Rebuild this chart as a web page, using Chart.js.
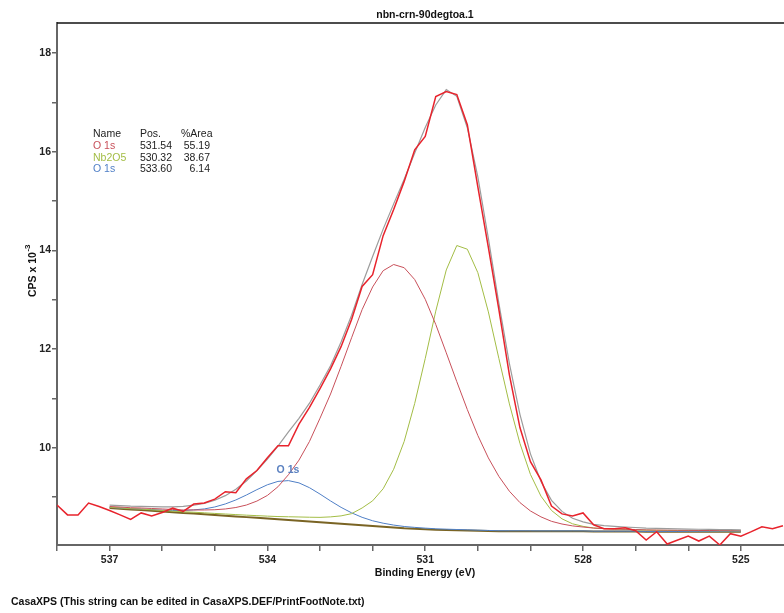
<!DOCTYPE html>
<html>
<head>
<meta charset="utf-8">
<script src="https://cdn.jsdelivr.net/npm/chart.js@4.4.0/dist/chart.umd.min.js"></script>
<style>
  html, body { margin: 0; padding: 0; background: #fff; }
  #cadre { width: 784px; height: 613px; position: relative; }
</style>
</head>
<body>
<div id="cadre"><canvas id="spectre"></canvas></div>
<script>
// spectre brut (eV, CPS x 10^-3)
const energieBrute = [538.0, 537.8, 537.6, 537.4, 537.2, 537.0, 536.8, 536.6, 536.4, 536.2,
  536.0, 535.8, 535.6, 535.4, 535.2, 535.0, 534.8, 534.6, 534.4, 534.2,
  534.0, 533.8, 533.6, 533.4, 533.2, 533.0, 532.8, 532.6, 532.4, 532.2,
  532.0, 531.8, 531.6, 531.4, 531.2, 531.0, 530.8, 530.6, 530.4, 530.2,
  530.0, 529.8, 529.6, 529.4, 529.2, 529.0, 528.8, 528.6, 528.4, 528.2,
  528.0, 527.8, 527.6, 527.4, 527.2, 527.0, 526.8, 526.6, 526.4, 526.2,
  526.0, 525.8, 525.6, 525.4, 525.2, 525.0, 524.8, 524.6, 524.4, 524.2];
const cpsBrute = [8.84, 8.64, 8.64, 8.88, 8.81, 8.73, 8.64, 8.55, 8.68, 8.62,
  8.69, 8.78, 8.71, 8.86, 8.88, 8.96, 9.11, 9.09, 9.37, 9.54,
  9.80, 10.04, 10.04, 10.48, 10.82, 11.20, 11.60, 12.05, 12.60, 13.27,
  13.51, 14.30, 14.83, 15.40, 16.04, 16.31, 17.12, 17.22, 17.16, 16.55,
  15.29, 14.06, 12.80, 11.48, 10.41, 9.72, 9.35, 8.82, 8.66, 8.62,
  8.68, 8.44, 8.36, 8.36, 8.38, 8.32, 8.13, 8.30, 8.05, 8.13,
  8.21, 8.11, 8.21, 8.03, 8.26, 8.21, 8.30, 8.40, 8.36, 8.42];

// région de fit 537 -> 525 eV
const energieFit = [537.0, 536.8, 536.6, 536.4, 536.2, 536.0, 535.8, 535.6, 535.4, 535.2,
  535.0, 534.8, 534.6, 534.4, 534.2, 534.0, 533.8, 533.6, 533.4, 533.2,
  533.0, 532.8, 532.6, 532.4, 532.2, 532.0, 531.8, 531.6, 531.4, 531.2,
  531.0, 530.8, 530.6, 530.4, 530.2, 530.0, 529.8, 529.6, 529.4, 529.2,
  529.0, 528.8, 528.6, 528.4, 528.2, 528.0, 527.8, 527.6, 527.4, 527.2,
  527.0, 526.8, 526.6, 526.4, 526.2, 526.0, 525.8, 525.6, 525.4, 525.2,
  525.0];
const fond = [8.78, 8.765, 8.75, 8.74, 8.725, 8.71, 8.695, 8.68, 8.67, 8.655,
  8.64, 8.625, 8.61, 8.595, 8.58, 8.565, 8.55, 8.535, 8.52, 8.505,
  8.49, 8.475, 8.46, 8.445, 8.43, 8.415, 8.40, 8.385, 8.37, 8.36,
  8.35, 8.34, 8.335, 8.33, 8.325, 8.32, 8.315, 8.31, 8.31, 8.31,
  8.31, 8.31, 8.31, 8.31, 8.31, 8.31, 8.305, 8.305, 8.305, 8.305,
  8.305, 8.30, 8.30, 8.30, 8.30, 8.30, 8.30, 8.30, 8.30, 8.30,
  8.30];
const o1sPrincipal = [8.81, 8.80, 8.785, 8.78, 8.77, 8.76, 8.75, 8.74, 8.74, 8.74,
  8.745, 8.76, 8.79, 8.84, 8.92, 9.035, 9.21, 9.455, 9.75, 10.13,
  10.60, 11.09, 11.65, 12.23, 12.80, 13.26, 13.59, 13.715, 13.65, 13.41,
  13.01, 12.50, 11.925, 11.34, 10.775, 10.25, 9.795, 9.42, 9.12, 8.89,
  8.72, 8.60, 8.51, 8.455, 8.417, 8.394, 8.373, 8.361, 8.355, 8.349,
  8.344, 8.336, 8.333, 8.331, 8.329, 8.327, 8.325, 8.324, 8.322, 8.321,
  8.32];
const nb2o5 = [8.795, 8.781, 8.766, 8.757, 8.743, 8.73, 8.716, 8.703, 8.695, 8.682,
  8.67, 8.658, 8.646, 8.635, 8.625, 8.615, 8.607, 8.602, 8.598, 8.593,
  8.59, 8.60, 8.62, 8.665, 8.78, 8.925, 9.17, 9.565, 10.13, 10.90,
  11.81, 12.77, 13.605, 14.10, 14.025, 13.55, 12.755, 11.81, 10.89, 10.09,
  9.46, 9.02, 8.73, 8.56, 8.46, 8.408, 8.375, 8.361, 8.351, 8.345,
  8.341, 8.332, 8.329, 8.326, 8.324, 8.321, 8.32, 8.318, 8.317, 8.316,
  8.315];
const o1sHaut = [8.793, 8.779, 8.766, 8.759, 8.747, 8.737, 8.73, 8.729, 8.742, 8.761,
  8.801, 8.862, 8.943, 9.043, 9.152, 9.251, 9.319, 9.335, 9.289, 9.191,
  9.062, 8.923, 8.793, 8.682, 8.591, 8.521, 8.472, 8.434, 8.405, 8.387,
  8.372, 8.359, 8.351, 8.344, 8.338, 8.331, 8.325, 8.319, 8.318, 8.318,
  8.317, 8.316, 8.316, 8.316, 8.316, 8.316, 8.31, 8.31, 8.31, 8.31,
  8.31, 8.304, 8.304, 8.304, 8.304, 8.304, 8.303, 8.303, 8.303, 8.303,
  8.303];
const enveloppe = [8.838, 8.827, 8.817, 8.814, 8.807, 8.804, 8.804, 8.812, 8.837, 8.873,
  8.936, 9.03, 9.159, 9.328, 9.537, 9.771, 10.036, 10.322, 10.597, 10.904,
  11.272, 11.663, 12.143, 12.687, 13.311, 13.876, 14.432, 14.944, 15.445, 15.977,
  16.492, 16.949, 17.26, 17.124, 16.488, 15.491, 14.245, 12.929, 11.708, 10.678,
  9.877, 9.316, 8.936, 8.711, 8.573, 8.498, 8.448, 8.422, 8.406, 8.394,
  8.385, 8.372, 8.366, 8.361, 8.357, 8.352, 8.349, 8.346, 8.343, 8.34,
  8.338];

// tableau des composantes
const nomsPics = ['O 1s', 'Nb2O5', 'O 1s'];
const positionsPics = ['531.54', '530.32', '533.60'];
const airesPics = ['55.19', '38.67', '6.14'];
const couleursPics = ['#c8505a', '#a3bd45', '#4f7fc6'];

const titre = 'nbn-crn-90degtoa.1';
const titreX = 'Binding Energy (eV)';
const notePied = 'CasaXPS (This string can be edited in CasaXPS.DEF/PrintFootNote.txt)';
const police = "'Liberation Sans', Arial, sans-serif";

const points = (xs, ys) => xs.map((x, i) => ({ x: x, y: ys[i] }));

const courbe = (label, xs, ys, couleur, epaisseur, ordre) => ({
  label: label,
  data: points(xs, ys),
  borderColor: couleur,
  borderWidth: epaisseur,
  pointRadius: 0,
  tension: 0,
  fill: false,
  order: ordre
});

// textes, tableau et cadre du haut
const annotations = {
  id: 'annotations',
  afterDraw(chart) {
    const ctx = chart.ctx;
    const ca = chart.chartArea;
    ctx.save();
    ctx.strokeStyle = '#111';
    ctx.lineWidth = 1.5;
    ctx.beginPath();
    ctx.moveTo(ca.left, ca.top);
    ctx.lineTo(chart.width, ca.top);
    ctx.stroke();

    ctx.fillStyle = '#111';
    ctx.font = 'bold 10.5px ' + police;
    ctx.textBaseline = 'middle';
    ctx.textAlign = 'center';
    ctx.fillText(titre, 425, 15.5);
    ctx.fillText(titreX, 425, 573);
    ctx.textAlign = 'left';
    ctx.fillText(notePied, 11, 602);

    // CPS x 10^-3 vertical
    ctx.save();
    ctx.translate(33, 271);
    ctx.rotate(-Math.PI / 2);
    const base = 'CPS x 10';
    const wBase = ctx.measureText(base).width;
    ctx.font = 'bold 8px ' + police;
    const wExp = ctx.measureText('-3').width;
    const debut = -(wBase + wExp) / 2;
    ctx.font = 'bold 10.5px ' + police;
    ctx.fillText(base, debut, 0);
    ctx.font = 'bold 8px ' + police;
    ctx.fillText('-3', debut + wBase + 0.5, -5);
    ctx.restore();

    // tableau Name / Pos. / %Area
    ctx.font = '10.5px ' + police;
    ctx.fillStyle = '#222';
    ctx.textAlign = 'left';
    ctx.fillText('Name', 93, 134);
    ctx.fillText('Pos.', 140, 134);
    ctx.fillText('%Area', 181, 134);
    for (let i = 0; i < nomsPics.length; i++) {
      const y = 146 + i * 11.7;
      ctx.textAlign = 'left';
      ctx.fillStyle = couleursPics[i];
      ctx.fillText(nomsPics[i], 93, y);
      ctx.fillStyle = '#222';
      ctx.textAlign = 'right';
      ctx.fillText(positionsPics[i], 172, y);
      ctx.fillText(airesPics[i], 210, y);
    }

    // étiquette du petit pic
    ctx.font = 'bold 10.5px ' + police;
    ctx.fillStyle = '#5a80c0';
    ctx.textAlign = 'center';
    ctx.fillText(nomsPics[2], 288, 470);
    ctx.restore();
  }
};

new Chart(document.getElementById('spectre'), {
  type: 'line',
  data: {
    datasets: [
      courbe('brut', energieBrute, cpsBrute, '#e8232c', 1.5, 0),
      courbe('enveloppe', energieFit, enveloppe, '#9c9c9c', 1.2, 1),
      courbe('O 1s', energieFit, o1sPrincipal, couleursPics[0], 1, 2),
      courbe('Nb2O5', energieFit, nb2o5, couleursPics[1], 1, 3),
      courbe('O 1s haut', energieFit, o1sHaut, couleursPics[2], 1, 4),
      courbe('fond', energieFit, fond, '#7a6424', 2, 5)
    ]
  },
  options: {
    responsive: true,
    maintainAspectRatio: false,
    animation: false,
    layout: { padding: { top: 23, left: 0, right: 0, bottom: 0 } },
    plugins: {
      legend: { display: false },
      title: { display: false },
      tooltip: { enabled: false }
    },
    scales: {
      x: {
        type: 'linear',
        reverse: true,
        min: 524.18,
        max: 538.0,
        afterFit: (s) => { s.height = 68; },
        border: { display: true, color: '#666', width: 2 },
        grid: { drawOnChartArea: false, drawTicks: true, tickLength: 6, color: '#666', lineWidth: 1.5 },
        ticks: {
          stepSize: 1,
          includeBounds: false,
          autoSkip: false,
          maxRotation: 0,
          padding: 3,
          color: '#222',
          font: { family: police, size: 10.5, weight: 'bold' },
          callback: (v) => ((537 - Math.round(v)) % 3 === 0 ? Math.round(v) : '')
        }
      },
      y: {
        min: 8.03,
        max: 18.61,
        afterFit: (s) => { s.width = 57; },
        border: { display: true, color: '#666', width: 2 },
        grid: { drawOnChartArea: false, drawTicks: true, tickLength: 5, color: '#666', lineWidth: 1.5 },
        ticks: {
          stepSize: 1,
          includeBounds: false,
          autoSkip: false,
          padding: 1,
          color: '#222',
          font: { family: police, size: 10.5, weight: 'bold' },
          callback: (v) => (Math.round(v) % 2 === 0 ? Math.round(v) : '')
        }
      }
    }
  },
  plugins: [annotations]
});
</script>
</body>
</html>
